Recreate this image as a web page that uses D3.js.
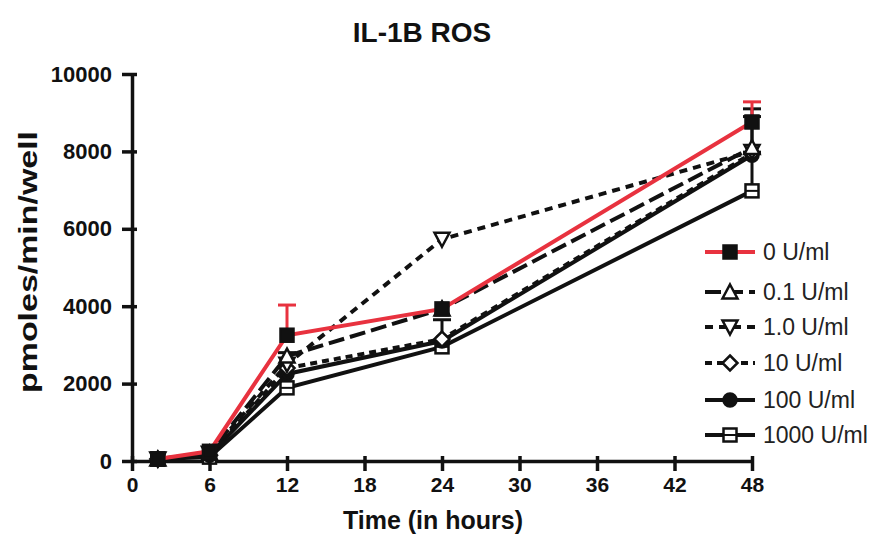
<!DOCTYPE html>
<html><head><meta charset="utf-8">
<script src="https://cdn.jsdelivr.net/npm/d3@7"></script>
<style>body{margin:0;background:#fff}svg{display:block}</style>
</head><body><svg id="c" width="882" height="535"></svg>
<script>
const hours = [2, 6, 12, 24, 48];
const seriesNames = ["0 U/ml", "0.1 U/ml", "1.0 U/ml", "10 U/ml", "100 U/ml", "1000 U/ml"];
const v0    = [50, 250, 3250, 3930, 8760];
const v01   = [50, 200, 2710, 3930, 8100];
const v1    = [50, 200, 2500, 5730, 8000];
const v10   = [50, 150, 2400, 3150, 7950];
const v100  = [50, 150, 2250, 3100, 7900];
const v1000 = [50, 100, 1890, 2950, 6980];
const e0    = [0, 0, 780, 0, 520];
const e01   = [0, 0, 0, 0, 1000];
const e1    = [0, 0, 0, 0, 900];
const e10   = [0, 0, 0, 500, 0];
const e100  = [0, 0, 550, 0, 0];
const e1000 = [0, 0, 0, 0, 1000];
const xTicks = [0, 6, 12, 18, 24, 30, 36, 42, 48];
const yTicks = [0, 2000, 4000, 6000, 8000, 10000];

const styles = [
  {color:"#e8323f", dash:null, marker:"square", fill:"#111"},
  {color:"#111", dash:"16,6", marker:"tri", fill:"#fff"},
  {color:"#111", dash:"8,6", marker:"tridown", fill:"#fff"},
  {color:"#111", dash:"7,5", marker:"diamond", fill:"#fff"},
  {color:"#111", dash:null, marker:"circle", fill:"#111"},
  {color:"#111", dash:null, marker:"square", fill:"#fff"}
];
const vals = [v0, v01, v1, v10, v100, v1000];
const errs = [e0, e01, e1, e10, e100, e1000];
const FONT = "Liberation Sans, Arial, sans-serif";

const svg = d3.select("#c");
const x = d3.scaleLinear().domain([0, 48]).range([132, 752]);
const y = d3.scaleLinear().domain([0, 10000]).range([461, 74]);

svg.append("text").attr("x", 422).attr("y", 42).attr("text-anchor","middle")
  .attr("font-family",FONT).attr("font-weight","bold").attr("font-size",28).attr("fill","#111").text("IL-1B ROS");

const gx = svg.append("g").attr("transform","translate(0,461)")
  .call(d3.axisBottom(x).tickValues(xTicks).tickFormat(d3.format("d")).tickSize(10).tickSizeOuter(0).tickPadding(6));
const gy = svg.append("g").attr("transform","translate(132,0)")
  .call(d3.axisLeft(y).tickValues(yTicks).tickFormat(d3.format("d")).tickSize(10).tickSizeOuter(0).tickPadding(10));
[gx, gy].forEach(g => {
  g.select(".domain").attr("stroke","#111").attr("stroke-width",3.5);
  g.selectAll(".tick line").attr("stroke","#111").attr("stroke-width",3.5);
  g.selectAll(".tick text").attr("font-family",FONT).attr("font-weight","bold").attr("fill","#111");
});
gx.selectAll(".tick text").attr("font-size",21);
gy.selectAll(".tick text").attr("font-size",22);
gx.selectAll(".tick line").attr("y1",-5).attr("y2",10);
gy.selectAll(".tick line").attr("x1",5);

svg.append("text").attr("x", 433).attr("y", 529).attr("text-anchor","middle")
  .attr("font-family",FONT).attr("font-weight","bold").attr("font-size",25).attr("fill","#111").text("Time (in hours)");
svg.append("text").attr("transform","translate(37,262) rotate(-90)").attr("text-anchor","middle")
  .attr("font-family",FONT).attr("font-weight","bold").attr("font-size",25).attr("fill","#111")
  .attr("textLength",262).attr("lengthAdjust","spacingAndGlyphs").text("pmoles/min/well");

function marker(g, type, cx, cy, s, fill, stroke) {
  const sw = 2.5;
  if (type === "square") {
    g.append("rect").attr("x", cx-s/2).attr("y", cy-s/2).attr("width", s).attr("height", s)
      .attr("fill", fill).attr("stroke", stroke).attr("stroke-width", sw);
    if (fill === "#fff") g.append("line").attr("x1",cx-s/2).attr("x2",cx+s/2).attr("y1",cy).attr("y2",cy).attr("stroke",stroke).attr("stroke-width",2);
  } else if (type === "circle") {
    g.append("circle").attr("cx",cx).attr("cy",cy).attr("r",s/2).attr("fill",fill).attr("stroke",stroke).attr("stroke-width",sw);
  } else if (type === "tri") {
    g.append("path").attr("d",`M${cx},${cy-s/2-1}L${cx+s/2+1},${cy+s/2}L${cx-s/2-1},${cy+s/2}Z`).attr("fill",fill).attr("stroke",stroke).attr("stroke-width",sw);
  } else if (type === "tridown") {
    g.append("path").attr("d",`M${cx},${cy+s/2+1}L${cx+s/2+1},${cy-s/2}L${cx-s/2-1},${cy-s/2}Z`).attr("fill",fill).attr("stroke",stroke).attr("stroke-width",sw);
  } else if (type === "diamond") {
    g.append("path").attr("d",`M${cx},${cy-s/2-1}L${cx+s/2+1},${cy}L${cx},${cy+s/2+1}L${cx-s/2-1},${cy}Z`).attr("fill",fill).attr("stroke",stroke).attr("stroke-width",sw);
  }
}

const line = d3.line().x((d,i)=>x(hours[i])).y(d=>y(d));
const plot = svg.append("g");
for (let k = vals.length-1; k >= 0; k--) {
  const st = styles[k];
  const g = plot.append("g");
  errs[k].forEach((e,i) => {
    if (e > 0) {
      g.append("line").attr("x1",x(hours[i])).attr("x2",x(hours[i])).attr("y1",y(vals[k][i])).attr("y2",y(vals[k][i]+e))
        .attr("stroke",st.color).attr("stroke-width",3);
      g.append("line").attr("x1",x(hours[i])-9).attr("x2",x(hours[i])+9).attr("y1",y(vals[k][i]+e)).attr("y2",y(vals[k][i]+e))
        .attr("stroke",st.color).attr("stroke-width",3);
    }
  });
  g.append("path").attr("d", line(vals[k])).attr("fill","none").attr("stroke",st.color)
    .attr("stroke-width",4).attr("stroke-dasharray",st.dash);
  vals[k].forEach((v,i) => marker(g, st.marker, x(hours[i]), y(v), 13, st.fill, "#111"));
}

const legY = [252, 292, 327, 363, 400, 435];
seriesNames.forEach((n,k) => {
  const st = styles[k];
  const g = svg.append("g");
  g.append("line").attr("x1",705).attr("x2",755).attr("y1",legY[k]).attr("y2",legY[k])
    .attr("stroke",st.color).attr("stroke-width",4).attr("stroke-dasharray",st.dash);
  marker(g, st.marker, 730, legY[k], 13, st.fill, "#111");
  g.append("text").attr("x",763).attr("y",legY[k]+8).attr("font-family",FONT)
    .attr("font-size",23).attr("fill","#222").text(n);
});
</script></body></html>
